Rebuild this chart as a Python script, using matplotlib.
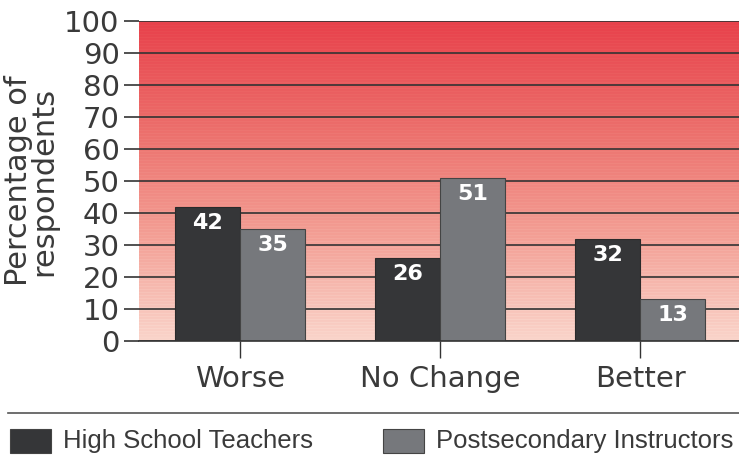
import numpy as np
import matplotlib
matplotlib.use("Agg")
import matplotlib.pyplot as plt
from matplotlib.colors import LinearSegmentedColormap
from matplotlib.patches import Rectangle

categories = ["Worse", "No Change", "Better"]
high_school = [42, 26, 32]
postsecondary = [35, 51, 13]
series_names = ["High School Teachers", "Postsecondary Instructors"]
y_ticks = [0, 10, 20, 30, 40, 50, 60, 70, 80, 90, 100]

c_hs = "#353638"
c_ps = "#76787c"
txt = "#3a3a3a"

plt.rcParams["font.family"] = "DejaVu Sans"

fig = plt.figure(figsize=(7.39, 4.55), dpi=100)
ax = fig.add_axes([139 / 739, 1 - 341 / 455, 600 / 739, 320 / 455])

# red background gradient with faint horizontal streaks
bg = LinearSegmentedColormap.from_list("bg", ["#fad4ca", "#f39e94", "#ec6e6b", "#e8414b"])
rows = np.linspace(0, 1, 320)
stripes = np.where((np.arange(320) % 3) == 0, 0.04, 0.0)
grad = np.clip(rows - stripes, 0, 1)[:, None]
ax.imshow(grad, cmap=bg, vmin=0, vmax=1, origin="lower", aspect="auto",
          extent=[-0.505, 2.495, 0, 100], zorder=0, interpolation="nearest")

x = np.arange(len(categories))
w = 0.325
b1 = ax.bar(x - w / 2, high_school, w, color=c_hs, edgecolor="#2a2a2a", linewidth=0.8, zorder=3)
b2 = ax.bar(x + w / 2, postsecondary, w, color=c_ps, edgecolor="#444444", linewidth=0.8, zorder=3)

for bars in (b1, b2):
    for r in bars:
        ax.annotate(str(int(r.get_height())), xy=(r.get_x() + r.get_width() / 2, r.get_height()),
                    xytext=(0, -16), textcoords="offset pixels", ha="center", va="center",
                    color="white", fontsize=16, fontweight="bold", zorder=4)

ax.set_xlim(-0.505, 2.495)
ax.set_ylim(0, 100)
ax.set_yticks(y_ticks)
ax.yaxis.grid(True, color="#333333", linewidth=1.2, zorder=2)
ax.set_axisbelow(False)
for g in ax.get_ygridlines():
    g.set_zorder(2)
ax.set_xticks(x)
ax.set_xticklabels(categories)
ax.tick_params(axis="y", length=11, width=1.2, color="#333333", labelsize=21,
               labelcolor=txt, pad=3)
ax.tick_params(axis="x", length=12, width=1.0, color="#333333", labelsize=21,
               labelcolor=txt, pad=5)
for s in ["left", "right", "top"]:
    ax.spines[s].set_visible(False)
ax.spines["bottom"].set_color("#333333")
ax.spines["bottom"].set_linewidth(1.2)
ax.spines["bottom"].set_zorder(5)

ax.set_ylabel("Percentage of\nrespondents", fontsize=22, color=txt, linespacing=0.85, labelpad=4)

# separator line and legend
fig.add_artist(plt.Line2D([8 / 739, 1.0], [1 - 413 / 455] * 2, color="#555555", linewidth=1.2))
legend_x = [10, 383]
for lx, name, col in zip(legend_x, series_names, [c_hs, c_ps]):
    fig.add_artist(Rectangle((lx / 739, 1 - 453 / 455), 41 / 739, 24 / 455,
                             facecolor=col, edgecolor="#444444", linewidth=0.8,
                             transform=fig.transFigure))
    fig.text((lx + 53) / 739, 1 - 441 / 455, name, fontsize=18.5, color=txt,
             family="Liberation Sans", va="center", ha="left")

fig.savefig("out.png", dpi=100)
